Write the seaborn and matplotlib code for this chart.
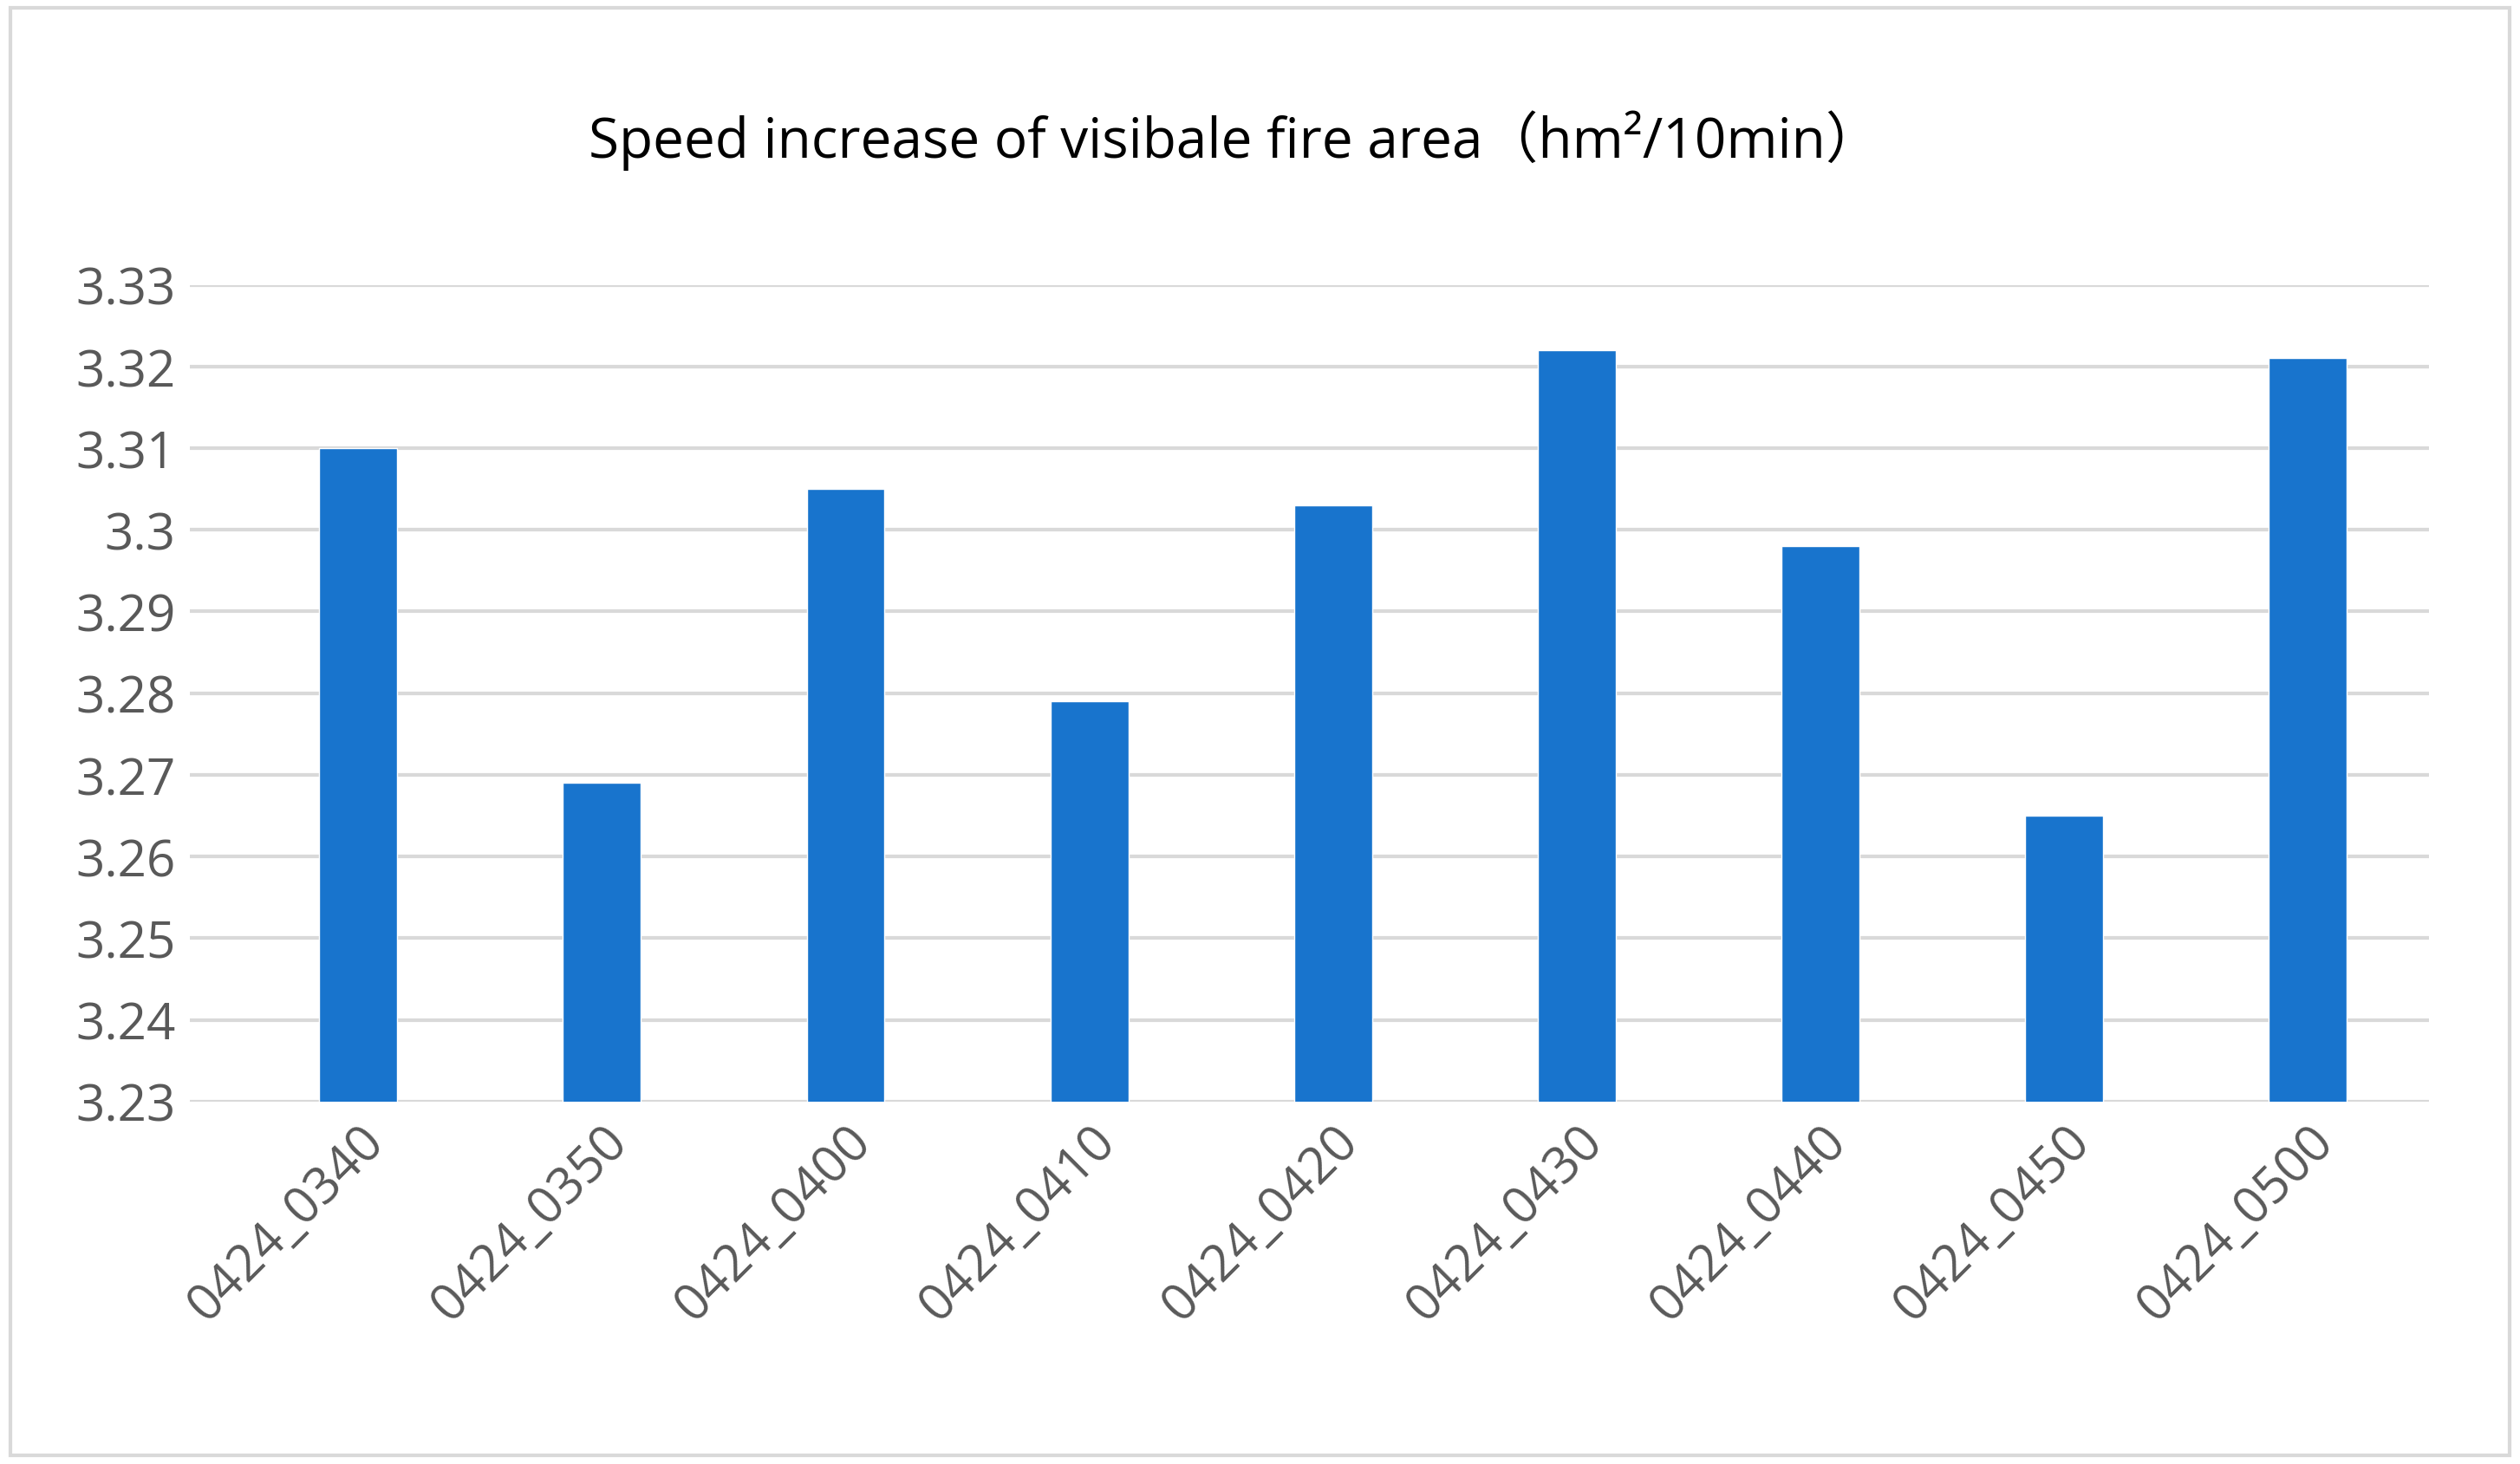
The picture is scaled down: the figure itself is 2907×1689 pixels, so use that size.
import matplotlib
matplotlib.use("Agg")
import matplotlib.pyplot as plt
import seaborn as sns
import pandas as pd
from matplotlib.patches import Rectangle

categories = ["0424_0340","0424_0350","0424_0400","0424_0410","0424_0420",
              "0424_0430","0424_0440","0424_0450","0424_0500"]
values = [3.310, 3.269, 3.305, 3.279, 3.303, 3.322, 3.298, 3.265, 3.321]
yticks = [3.23,3.24,3.25,3.26,3.27,3.28,3.29,3.30,3.31,3.32,3.33]
ytick_labels = ["3.23","3.24","3.25","3.26","3.27","3.28","3.29","3.3","3.31","3.32","3.33"]

sns.set_theme(style="white")
plt.rcParams['font.family'] = ['Open Sans', 'Noto Sans CJK SC', 'DejaVu Sans']

df = pd.DataFrame({"cat": categories, "val": values})
fig = plt.figure(figsize=(29.07, 16.90), dpi=100)
ax = fig.add_axes([0.0755, 0.2475, 0.8885, 0.5575])
sns.barplot(data=df, x="cat", y="val", color="#1874CD", width=0.32, ax=ax, saturation=1)
ax.set_ylim(3.23, 3.33)
ax.set_yticks(yticks)
ax.set_yticklabels(ytick_labels, fontsize=42, color="#595959")
ax.set_xlim(-0.69, len(categories)-0.5)
ax.set_xticks(range(len(categories)))
ax.set_xticklabels(categories, rotation=45, ha="right", rotation_mode="anchor",
                   fontsize=42, color="#595959")
ax.tick_params(axis="both", length=0, pad=12)
ax.set_axisbelow(True)
ax.yaxis.grid(True, color="#D9D9D9", linewidth=3)
for s in ax.spines.values():
    s.set_visible(False)
ax.set_xlabel("")
ax.set_ylabel("")
fig.text(0.49, 0.904, "Speed increase of visibale fire area（hm²/10min）",
         ha="center", va="center", fontsize=46, color="black",
         family=['Open Sans', 'Noto Sans CJK SC', 'DejaVu Sans'])
fig.patches.append(Rectangle((0.004, 0.006), 0.992, 0.988, transform=fig.transFigure,
                             fill=False, edgecolor="#D9D9D9", linewidth=3))
fig.savefig("out.png", dpi=100, facecolor="white")
